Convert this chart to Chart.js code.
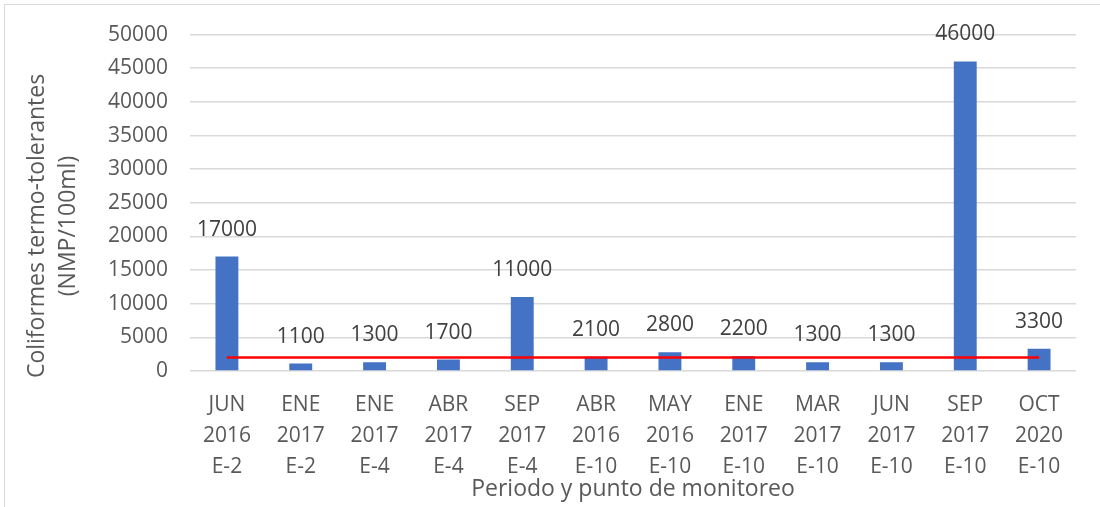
<!DOCTYPE html>
<html>
<head>
<meta charset="utf-8">
<script src="https://cdn.jsdelivr.net/npm/chart.js@4"></script>
<style>
  html, body { margin: 0; padding: 0; background: #fff; }
  #wrap { position: relative; width: 1100px; height: 507px; }
  #frame { position: absolute; left: 4px; top: 4px; width: 1200px; height: 600px;
           border-left: 1px solid #d9d9d9; border-top: 1px solid #d9d9d9; }
  canvas { position: absolute; left: 0; top: 0; }
</style>
</head>
<body>
<div id="wrap">
  <div id="frame"></div>
  <canvas id="chart" width="1100" height="507"></canvas>
</div>
<script>
const categories = [
  ["JUN", "2016", "E-2"],
  ["ENE", "2017", "E-2"],
  ["ENE", "2017", "E-4"],
  ["ABR", "2017", "E-4"],
  ["SEP", "2017", "E-4"],
  ["ABR", "2016", "E-10"],
  ["MAY", "2016", "E-10"],
  ["ENE", "2017", "E-10"],
  ["MAR", "2017", "E-10"],
  ["JUN", "2017", "E-10"],
  ["SEP", "2017", "E-10"],
  ["OCT", "2020", "E-10"]
];
const coliformes = [17000, 1100, 1300, 1700, 11000, 2100, 2800, 2200, 1300, 1300, 46000, 3300];
const limite = [2000, 2000, 2000, 2000, 2000, 2000, 2000, 2000, 2000, 2000, 2000, 2000];
const yTicks = [0, 5000, 10000, 15000, 20000, 25000, 30000, 35000, 40000, 45000, 50000];
const yTitle = ["Coliformes termo-tolerantes", "(NMP/100ml)"];

const textColor = "#595959";
const fontFamily = "'Open Sans', 'Noto Sans', sans-serif";

// value labels above each bar + y axis title (sits a bit below the axis middle)
const extraText = {
  id: "extraText",
  afterDatasetsDraw(chart) {
    const ctx = chart.ctx;
    const meta = chart.getDatasetMeta(0);
    ctx.save();
    ctx.font = "21px " + fontFamily;
    ctx.fillStyle = "#404040";
    ctx.textAlign = "center";
    ctx.textBaseline = "middle";
    meta.data.forEach((bar, i) => {
      ctx.fillText(String(coliformes[i]), bar.x, bar.y - 27);
    });
    ctx.restore();

    ctx.save();
    ctx.font = "23px " + fontFamily;
    ctx.fillStyle = textColor;
    ctx.textAlign = "center";
    ctx.textBaseline = "middle";
    yTitle.forEach((line, i) => {
      ctx.save();
      ctx.translate(37 + i * 31, 226);
      ctx.rotate(-Math.PI / 2);
      ctx.fillText(line, 0, 0);
      ctx.restore();
    });
    ctx.restore();
  }
};

new Chart(document.getElementById("chart"), {
  type: "bar",
  data: {
    labels: categories,
    datasets: [
      {
        type: "bar",
        data: coliformes,
        backgroundColor: "#4472C4",
        categoryPercentage: 1,
        barPercentage: 0.31,
        order: 1
      },
      {
        type: "line",
        data: limite,
        borderColor: "#ff0000",
        borderWidth: 2.5,
        pointRadius: 0,
        fill: false,
        order: 0
      }
    ]
  },
  options: {
    responsive: false,
    animation: false,
    layout: { padding: { left: 24, top: 31, right: 24, bottom: 4 } },
    plugins: { legend: { display: false }, tooltip: { enabled: false } },
    scales: {
      x: {
        grid: { display: false },
        border: { display: false },
        ticks: {
          color: textColor,
          font: { family: fontFamily, size: 21, lineHeight: 1.48 },
          padding: 10,
          maxRotation: 0,
          autoSkip: false
        },
        title: {
          display: true,
          text: "Periodo y punto de monitoreo",
          color: textColor,
          font: { family: fontFamily, size: 23 },
          padding: { top: 0, bottom: 0 }
        },
        afterFit(scale) { scale.height = 507 - 371 - 4; }
      },
      y: {
        min: 0,
        max: 50000,
        afterBuildTicks(scale) { scale.ticks = yTicks.map(v => ({ value: v })); },
        grid: { color: "#d9d9d9", lineWidth: 1.5, drawTicks: false },
        border: { display: false },
        ticks: {
          color: textColor,
          font: { family: fontFamily, size: 21 },
          padding: 22,
          callback: (v) => String(v)
        },
        title: { display: false },
        afterFit(scale) { scale.width = 190 - 24; }
      }
    }
  },
  plugins: [extraText]
});
</script>
</body>
</html>
